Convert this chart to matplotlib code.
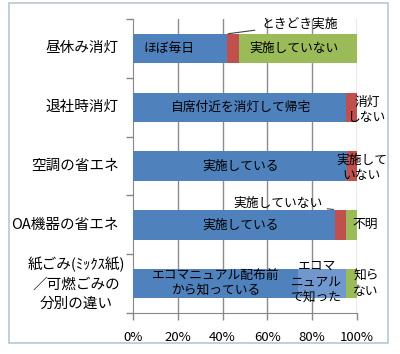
import matplotlib
matplotlib.use("Agg")
import matplotlib.pyplot as plt
from matplotlib.patches import Rectangle

plt.rcParams['font.family'] = ['Noto Sans CJK JP', 'DejaVu Sans']

categories = ["昼休み消灯", "退社時消灯", "空調の省エネ", "OA機器の省エネ",
              "紙ごみ(ﾐｯｸｽ紙)\n／可燃ごみの\n分別の違い"]
# segments per category
seg1 = [42, 95, 95.5, 90, 73.5]   # main blue
seg2 = [5.5, 5, 4.5, 5, 21.5]     # second segment
seg3 = [52.5, 0, 0, 5, 5]         # third segment
seg2_colors = ["red", "red", "red", "red", "lightblue"]
seg3_colors = ["green", "green", "green", "green", "green"]
xticks = [0, 20, 40, 60, 80, 100]
xticklabels = ["0%", "20%", "40%", "60%", "80%", "100%"]

colors = {"blue": "#4F81BD", "red": "#C0504D", "green": "#9BBB59",
          "lightblue": "#7098CE"}

fig = plt.figure(figsize=(4.0, 3.54), dpi=100)
fig.patches.append(Rectangle((9/400, 1-343/354), 379/400, 340/354,
                             transform=fig.transFigure, fill=False,
                             edgecolor="#B4C8D2", linewidth=1.2))
ax = fig.add_axes([133/400, 1-313/354, 224/400, 294/354])

y = list(range(len(categories)))
h = 0.5
ax.barh(y, seg1, height=h, color=colors["blue"], zorder=3)
ax.barh(y, seg2, left=seg1, height=h,
        color=[colors[c] for c in seg2_colors], zorder=3)
left3 = [a + b for a, b in zip(seg1, seg2)]
ax.barh(y, seg3, left=left3, height=h,
        color=[colors[c] for c in seg3_colors], zorder=3)

ax.set_xlim(0, 100)
ax.set_ylim(4.5, -0.5)
ax.set_xticks(xticks)
ax.set_xticklabels(xticklabels, fontsize=9.5)
ax.set_yticks([i - 0.5 for i in range(6)])
ax.set_yticklabels([])
ax.tick_params(axis='y', length=5, color="#888888", width=1)
ax.tick_params(axis='x', length=5, color="#888888", width=1, pad=8)
for x in xticks[1:]:
    ax.axvline(x, color="#8C8C8C", linewidth=1, zorder=1)
for s in ["top", "right"]:
    ax.spines[s].set_visible(False)
for s in ["left", "bottom"]:
    ax.spines[s].set_color("#888888")

# category labels
for i, c in enumerate(categories):
    if "\n" in c:
        ax.text(-25.5, i, c, ha="center", va="center", fontsize=10.5,
                linespacing=1.5)
    else:
        ax.text(-6.5, i, c, ha="right", va="center", fontsize=10.5)

fs = 9.2
# bar 1
ax.text(16, 0, "ほぼ毎日", ha="center", va="center", fontsize=fs, zorder=4)
ax.text(72, 0, "実施していない", ha="center", va="center", fontsize=fs, zorder=4)
ax.annotate("ときどき実施", xy=(42.5, -0.25), xytext=(57.5, -0.41),
            fontsize=fs, ha="left", va="center",
            arrowprops=dict(arrowstyle="-", color="#444444", lw=0.8,
                            shrinkA=3, shrinkB=0), annotation_clip=False)
# bar 2
ax.text(48, 1, "自席付近を消灯して帰宅", ha="center", va="center", fontsize=fs, zorder=4)
ax.text(104.5, 1.05, "消灯\nしない", ha="center", va="center", fontsize=fs,
        linespacing=1.25, zorder=4)
# bar 3
ax.text(48, 2, "実施している", ha="center", va="center", fontsize=fs, zorder=4)
ax.text(102, 2.03, "実施して\nいない", ha="center", va="center", fontsize=fs,
        linespacing=1.25, zorder=4)
# bar 4
ax.text(48, 3, "実施している", ha="center", va="center", fontsize=fs, zorder=4)
ax.text(103.5, 3, "不明", ha="center", va="center", fontsize=fs, zorder=4)
ax.annotate("実施していない", xy=(89.5, 2.74), xytext=(45, 2.63),
            fontsize=fs, ha="left", va="center",
            arrowprops=dict(arrowstyle="-", color="#444444", lw=0.8,
                            shrinkA=1, shrinkB=0), annotation_clip=False)
# bar 5
ax.text(37, 4, "エコマニュアル配布前\nから知っている", ha="center", va="center",
        fontsize=fs, linespacing=1.2, zorder=4)
ax.text(82, 3.98, "エコマ\nニュアル\nで知った", ha="center", va="center",
        fontsize=fs, linespacing=1.3, zorder=4)
ax.text(104, 4, "知ら\nない", ha="center", va="center", fontsize=fs,
        linespacing=1.25, zorder=4)

fig.savefig("out.png", dpi=100)
